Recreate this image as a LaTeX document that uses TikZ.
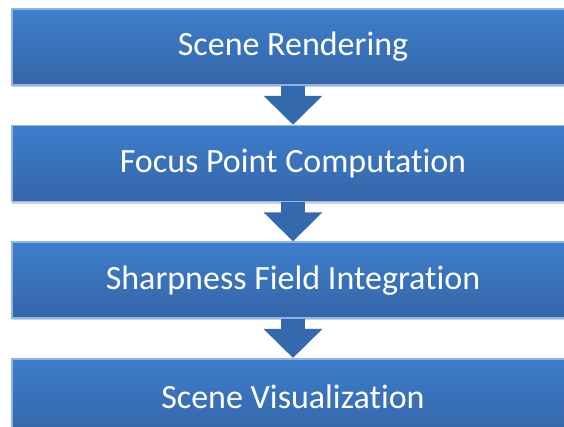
\documentclass[tikz,border=0pt]{standalone}
\usepackage{fontspec}
\setmainfont{Carlito}[Ligatures=NoCommon]
\usetikzlibrary{positioning,arrows.meta,shadows}

\definecolor{boxtop}{HTML}{3E7ECC}
\definecolor{boxbottom}{HTML}{3465A8}
\definecolor{boxedge}{HTML}{8DB4E6}
\definecolor{arrowblue}{HTML}{3569AD}

\tikzset{
  stagebox/.style={rectangle, minimum width=300pt, minimum height=38pt,
    top color=boxtop, bottom color=boxbottom, draw=boxedge, line width=0.8pt,
    drop shadow={shadow xshift=0pt, shadow yshift=-1pt, opacity=0.35}},
  stagetext/.style={text=white, font=\fontsize{17}{20}\selectfont},
  flowarrow/.style={draw=arrowblue, line width=12pt,
    -{Triangle[width=28.5pt, length=14.5pt]}}
}

\begin{document}
\begin{tikzpicture}[x=0.5pt, y=-0.5pt, node distance=19.5pt]
  \useasboundingbox (0,0) rectangle (564,427);
  \clip (0,0) rectangle (564,427);

  % Stages
  \node[stagebox] (render) at (312,47) {};
  \node[stagebox, below=of render] (focus) {};
  \node[stagebox, below=of focus] (sharp) {};
  \node[stagebox, below=of sharp] (visual) {};

  % Labels, centred on the visible part
  \node[stagetext] at (293,47) (renderlbl) {Scene Rendering};
  \node[stagetext] at (focus -| renderlbl) (focuslbl) {Focus Point Computation};
  \node[stagetext] at (sharp -| renderlbl) (sharplbl) {Sharpness Field Integration};
  \node[stagetext] at (visual -| renderlbl) (visuallbl) {Scene Visualization};

  % Flow
  \draw[flowarrow] (render.south -| renderlbl) -- (focus.north -| renderlbl);
  \draw[flowarrow] (focus.south -| renderlbl) -- (sharp.north -| renderlbl);
  \draw[flowarrow] (sharp.south -| renderlbl) -- (visual.north -| renderlbl);
\end{tikzpicture}
\end{document}
